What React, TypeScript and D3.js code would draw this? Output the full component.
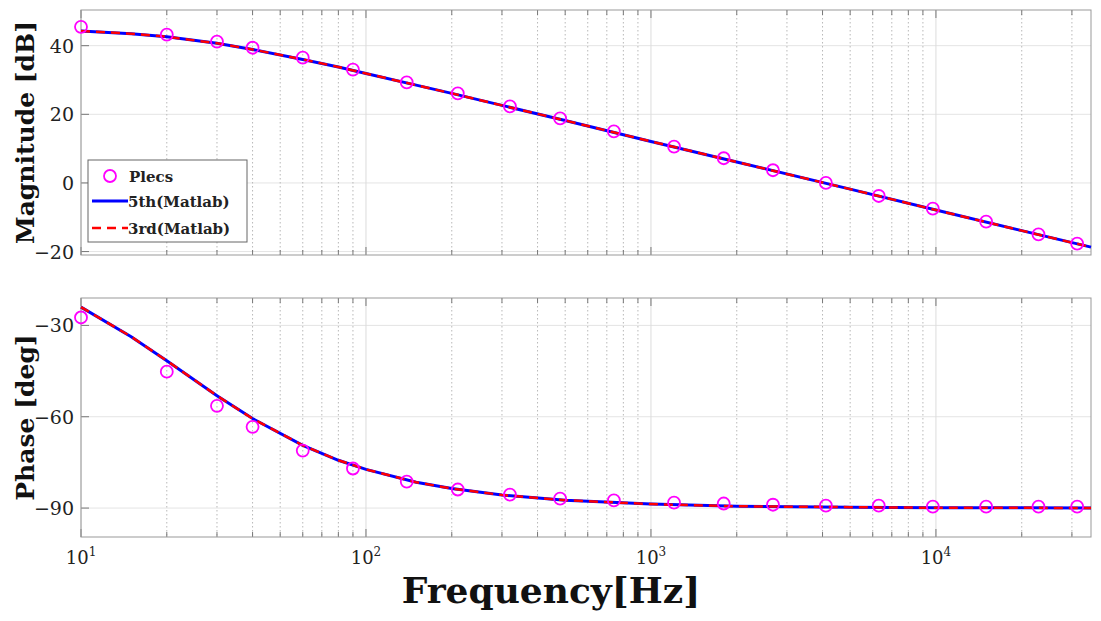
import * as d3 from 'd3';
import React from 'react';

const plecsFreq = [10, 20, 30, 40, 60, 90, 139, 210, 320, 480, 741, 1205, 1800, 2680, 4110, 6300, 9750, 15000, 22900, 31300];
const plecsMag = [45.5, 43.2, 41.2, 39.4, 36.5, 33, 29.3, 26.1, 22.3, 18.8, 15, 10.6, 7.2, 3.7, 0, -3.8, -7.5, -11.3, -15, -17.7];
const plecsPhase = [-27.4, -45.2, -56.4, -63.3, -71.1, -77, -81.3, -83.9, -85.6, -86.9, -87.5, -88.2, -88.5, -88.9, -89.2, -89.2, -89.5, -89.5, -89.5, -89.5];

const lineFreq = [10, 15, 20, 30, 40, 60, 80, 100, 150, 200, 300, 500, 1000, 2000, 5000, 10000, 20000, 35000];
const lineMag = [44.3, 43.5, 42.6, 40.7, 38.9, 36.0, 33.8, 31.9, 28.5, 26.1, 22.6, 18.2, 12.1, 6.1, -1.8, -7.9, -13.9, -18.7];
const linePhase = [-24.0, -33.7, -41.6, -53.1, -60.6, -69.4, -74.3, -77.3, -81.5, -83.6, -85.7, -87.4, -88.7, -89.4, -89.7, -89.9, -89.9, -90];

const magTicks = [-20, 0, 20, 40];
const phaseTicks = [-90, -60, -30];
const decades = [10, 100, 1000, 10000];

const FONT = '"DejaVu Serif", "Liberation Serif", serif';

export default function App() {
  const x = d3.scaleLog().domain([10, 35000]).range([81, 1091]);
  const minor: number[] = [];
  for (let e = 1; e <= 4; e++) for (let m = 1; m <= 9; m++) { const v = m * 10 ** e; if (v <= 35000) minor.push(v); }

  const panel = (yDom: [number, number], top: number, bot: number, ticks: number[], ys: number[], pts: number[], label: string, legend: boolean) => {
    const y = d3.scaleLinear().domain(yDom).range([bot, top]);
    const line = d3.line<number>().x((_, i) => x(lineFreq[i])).y(d => y(d));
    return (
      <g>
        <rect x={81} y={top} width={1010} height={bot - top} fill="white" />
        {ticks.map(t => <line key={t} x1={81} x2={1091} y1={y(t)} y2={y(t)} stroke="#e4e4e4" />)}
        {minor.map(v => decades.includes(v)
          ? <line key={v} x1={x(v)} x2={x(v)} y1={top} y2={bot} stroke="#dcdcdc" />
          : <line key={v} x1={x(v)} x2={x(v)} y1={top} y2={bot} stroke="#b8b8b8" strokeDasharray="1.5,2.5" />)}
        {minor.map(v => <g key={'t' + v}>
          <line x1={x(v)} x2={x(v)} y1={bot} y2={bot - (decades.includes(v) ? 8 : 5)} stroke="#777" />
          <line x1={x(v)} x2={x(v)} y1={top} y2={top + (decades.includes(v) ? 8 : 5)} stroke="#777" />
        </g>)}
        {ticks.map(t => <line key={'y' + t} x1={81} x2={89} y1={y(t)} y2={y(t)} stroke="#777" />)}
        <rect x={81} y={top} width={1010} height={bot - top} fill="none" stroke="#999" />
        {ticks.map(t => <text key={t} x={74} y={y(t) + 7} textAnchor="end" fontSize={19} fontFamily={FONT} fill="#222">{t === 0 ? '0' : t < 0 ? '\u2212' + Math.abs(t) : t}</text>)}
        <path d={line(ys) ?? ''} fill="none" stroke="#0000ff" strokeWidth={3} />
        <path d={line(ys) ?? ''} fill="none" stroke="#ff0000" strokeWidth={2.5} strokeDasharray="9,6" />
        {pts.map((v, i) => <circle key={i} cx={x(plecsFreq[i])} cy={y(v)} r={6} fill="none" stroke="#ff00ff" strokeWidth={1.8} />)}
        <text transform={`translate(34,${(top + bot) / 2}) rotate(-90)`} textAnchor="middle" fontSize={25} fontWeight="bold" fontFamily={FONT} fill="#111">{label}</text>
        {legend && (
          <g>
            <rect x={88} y={160} width={159} height={82} fill="white" stroke="#666" />
            <circle cx={110} cy={176} r={6} fill="none" stroke="#ff00ff" strokeWidth={1.8} />
            <text x={129} y={182} fontSize={15} fontWeight="bold" fontFamily={FONT} fill="#222">Plecs</text>
            <line x1={92} x2={128} y1={201} y2={201} stroke="#0000ff" strokeWidth={3} />
            <text x={128} y={207} fontSize={15} fontWeight="bold" fontFamily={FONT} fill="#222">5th(Matlab)</text>
            <line x1={92} x2={128} y1={228} y2={228} stroke="#ff0000" strokeWidth={2.5} strokeDasharray="9,6" />
            <text x={128} y={234} fontSize={15} fontWeight="bold" fontFamily={FONT} fill="#222">3rd(Matlab)</text>
          </g>
        )}
      </g>
    );
  };

  return (
    <svg width={1101} height={621} style={{ position: 'absolute', left: 0, top: 0 }}>
      <rect width={1101} height={621} fill="white" />
      {panel([-21, 50.4], 10, 255, magTicks, lineMag, plecsMag, 'Magnitude [dB]', true)}
      {panel([-99.5, -21], 298, 537, phaseTicks, linePhase, plecsPhase, 'Phase [deg]', false)}
      {decades.map((d, i) => (
        <text key={d} x={x(d)} y={564} textAnchor="middle" fontSize={18} fontFamily={FONT} fill="#222">
          10<tspan dy={-8} fontSize={12}>{i + 1}</tspan>
        </text>
      ))}
      <text x={551} y={603} textAnchor="middle" fontSize={36} fontWeight="bold" fontFamily={FONT} fill="#111">Frequency[Hz]</text>
    </svg>
  );
}
